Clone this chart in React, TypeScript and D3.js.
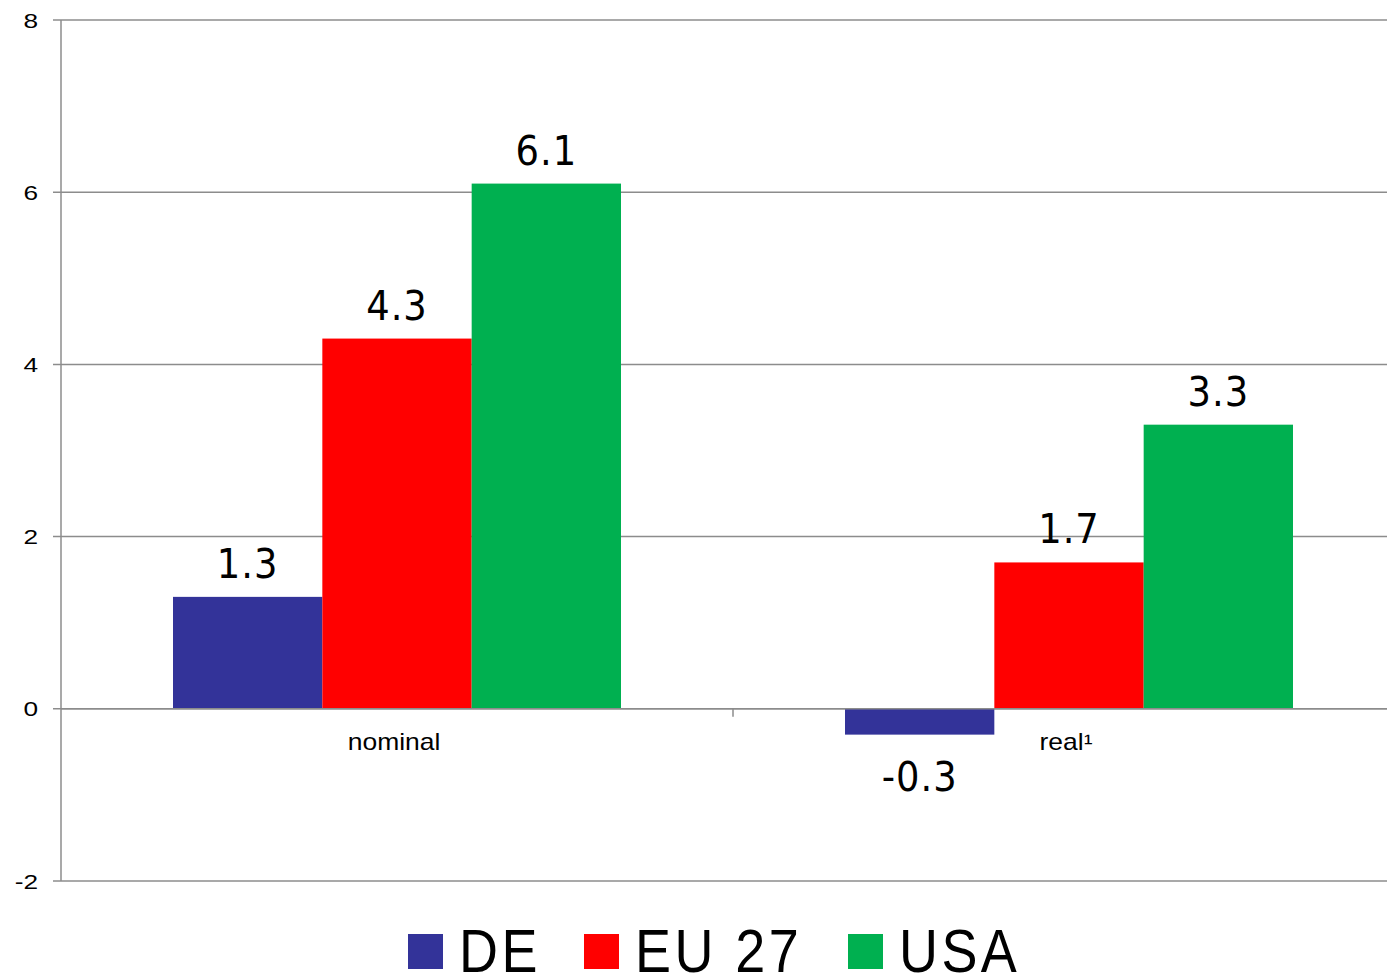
import { useEffect, useRef } from 'react';
import * as d3 from 'd3';

const categories = ['nominal', 'real¹'];
const seriesNames = ['DE', 'EU 27', 'USA'];
const seriesColors = ['#333399', '#ff0000', '#00b050'];
const deValues = [1.3, -0.3];
const eu27Values = [4.3, 1.7];
const usaValues = [6.1, 3.3];
const yTicks = [-2, 0, 2, 4, 6, 8];

const W = 1387;
const H = 976;

export default function App() {
  const svgRef = useRef<SVGSVGElement>(null);

  useEffect(() => {
    if (!svgRef.current) return;
    const svg = d3.select(svgRef.current);
    svg.selectAll('*').remove();

    const series = [deValues, eu27Values, usaValues];
    const left = 61;
    const right = 1405;

    const y = d3.scaleLinear().domain([-2, 8]).range([881, 20]);
    const x0 = d3.scaleBand().domain(categories).range([left, right]).paddingInner(0).paddingOuter(0);
    const groupW = x0.bandwidth() * (448 / 672);
    const x1 = d3.scaleBand().domain(seriesNames).range([0, groupW]);

    // gridlines
    svg
      .append('g')
      .selectAll('line')
      .data(yTicks)
      .enter()
      .append('line')
      .attr('x1', left - 8)
      .attr('x2', W)
      .attr('y1', (d) => y(d))
      .attr('y2', (d) => y(d))
      .attr('stroke', '#8c8c8c')
      .attr('stroke-width', 1.5);

    // y tick labels (the reference type is a little wide)
    svg
      .append('g')
      .selectAll('text')
      .data(yTicks)
      .enter()
      .append('text')
      .attr('transform', (d) => `translate(38,${y(d) + 7.5}) scale(1.25,1)`)
      .attr('text-anchor', 'end')
      .attr('font-family', '"Liberation Sans", Arial, sans-serif')
      .attr('font-size', 21)
      .attr('fill', '#000')
      .text((d) => d);

    // bars
    const groups = svg
      .append('g')
      .selectAll('g')
      .data(categories)
      .enter()
      .append('g')
      .attr('transform', (c) => `translate(${x0(c)! + (x0.bandwidth() - groupW) / 2},0)`);

    groups
      .selectAll('rect')
      .data((_, ci) => series.map((s, si) => ({ v: s[ci], si })))
      .enter()
      .append('rect')
      .attr('x', (d) => x1(seriesNames[d.si])!)
      .attr('width', x1.bandwidth())
      .attr('y', (d) => y(Math.max(0, d.v)))
      .attr('height', (d) => Math.abs(y(d.v) - y(0)))
      .attr('fill', (d) => seriesColors[d.si]);

    groups
      .selectAll('text')
      .data((_, ci) => series.map((s, si) => ({ v: s[ci], si })))
      .enter()
      .append('text')
      .attr('x', (d) => x1(seriesNames[d.si])! + x1.bandwidth() / 2)
      .attr('y', (d) => (d.v >= 0 ? y(d.v) - 19 : y(d.v) + 56))
      .attr('text-anchor', 'middle')
      .attr('font-family', '"DejaVu Sans Condensed", "DejaVu Sans", sans-serif')
      .attr('font-size', 41)
      .attr('letter-spacing', 1)
      .attr('fill', '#000')
      .text((d) => d.v.toFixed(1));

    // axes
    svg
      .append('line')
      .attr('x1', left)
      .attr('x2', left)
      .attr('y1', y(8))
      .attr('y2', y(-2))
      .attr('stroke', '#8c8c8c')
      .attr('stroke-width', 1.5);

    svg
      .append('line')
      .attr('x1', left)
      .attr('x2', W)
      .attr('y1', y(0))
      .attr('y2', y(0))
      .attr('stroke', '#8c8c8c')
      .attr('stroke-width', 1.5);

    // category tick
    svg
      .append('g')
      .selectAll('line')
      .data(categories.slice(1))
      .enter()
      .append('line')
      .attr('x1', (c) => x0(c)!)
      .attr('x2', (c) => x0(c)!)
      .attr('y1', y(0))
      .attr('y2', y(0) + 8)
      .attr('stroke', '#8c8c8c')
      .attr('stroke-width', 1.5);

    // category labels
    svg
      .append('g')
      .selectAll('text')
      .data(categories)
      .enter()
      .append('text')
      .attr('transform', (c) => `translate(${x0(c)! + x0.bandwidth() / 2 - 3},${y(0) + 41}) scale(1.15,1)`)
      .attr('text-anchor', 'middle')
      .attr('font-family', '"Liberation Sans", Arial, sans-serif')
      .attr('font-size', 23)
      .attr('fill', '#000')
      .text((c) => c);

    // legend
    const legendX = [408, 584, 848];
    const legend = svg
      .append('g')
      .selectAll('g')
      .data(seriesNames)
      .enter()
      .append('g')
      .attr('transform', (_, i) => `translate(${legendX[i]},934)`);
    legend
      .append('rect')
      .attr('width', 35)
      .attr('height', 35)
      .attr('fill', (_, i) => seriesColors[i]);
    legend
      .append('text')
      .attr('transform', 'translate(51,38) scale(0.87,1)')
      .attr('font-family', '"Liberation Sans", Arial, sans-serif')
      .attr('font-size', 62)
      .attr('letter-spacing', 4)
      .attr('fill', '#000')
      .text((d) => d);
  }, []);

  return (
    <svg
      ref={svgRef}
      width={W}
      height={H}
      style={{ position: 'absolute', left: 0, top: 0, background: '#fff' }}
    />
  );
}
